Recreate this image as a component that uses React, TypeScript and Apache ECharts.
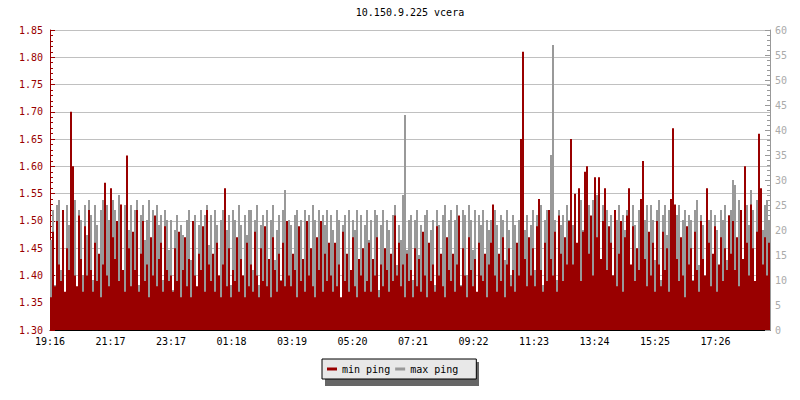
import React, { useEffect, useRef } from "react";
import * as echarts from "echarts";

const chartTitle = "10.150.9.225 vcera";
const tickLabels = ["19:16", "21:17", "23:17", "01:18", "03:19", "05:20", "07:21", "09:22", "11:23", "13:24", "15:25", "17:26"];
const minutesPerSample = 4;
const spanMinutes = 1440;
const labelStepMinutes = 121;

// min ping (ms), left axis
const minPing = [
  1.36, 1.48, 1.38, 1.50, 1.42, 1.39, 1.52, 1.37, 1.45, 1.41, 1.70, 1.60, 1.40, 1.38, 1.51, 1.43, 1.37, 1.49, 1.40, 1.52,
  1.41, 1.37, 1.46, 1.39, 1.44, 1.36, 1.42, 1.57, 1.40, 1.38, 1.56, 1.47, 1.43, 1.50, 1.39, 1.53, 1.41, 1.37, 1.62, 1.45,
  1.38, 1.48, 1.41, 1.52, 1.37, 1.44, 1.50, 1.39, 1.42, 1.36, 1.47, 1.40, 1.51, 1.38, 1.43, 1.46, 1.37, 1.49, 1.41, 1.39,
  1.40, 1.37, 1.45, 1.39, 1.48, 1.36, 1.41, 1.47, 1.38, 1.43, 1.36, 1.50, 1.40, 1.38, 1.44, 1.41, 1.49, 1.37, 1.52, 1.42,
  1.39, 1.44, 1.37, 1.46, 1.40, 1.36, 1.42, 1.56, 1.38, 1.45, 1.36, 1.41, 1.39, 1.47, 1.37, 1.43, 1.40, 1.36, 1.46, 1.38,
  1.42, 1.37, 1.48, 1.40, 1.36, 1.45, 1.39, 1.49, 1.38, 1.43, 1.36, 1.47, 1.41, 1.37, 1.44, 1.39, 1.46, 1.38, 1.50, 1.40,
  1.38, 1.44, 1.41, 1.36, 1.49, 1.39, 1.43, 1.37, 1.50, 1.40, 1.45, 1.38, 1.36, 1.47, 1.41, 1.50, 1.37, 1.44, 1.39, 1.46,
  1.40, 1.37, 1.46, 1.38, 1.42, 1.36, 1.48, 1.39, 1.44, 1.37, 1.41, 1.47, 1.38, 1.36, 1.43, 1.40, 1.45, 1.37, 1.39, 1.46,
  1.37, 1.43, 1.40, 1.47, 1.36, 1.42, 1.38, 1.45, 1.41, 1.37, 1.44, 1.39, 1.51, 1.40, 1.46, 1.38, 1.42, 1.36, 1.44, 1.39,
  1.41, 1.36, 1.45, 1.38, 1.43, 1.37, 1.48, 1.40, 1.36, 1.46, 1.39, 1.42, 1.37, 1.49, 1.40, 1.44, 1.38, 1.36, 1.47, 1.41,
  1.39, 1.44, 1.37, 1.42, 1.51, 1.38, 1.45, 1.40, 1.36, 1.47, 1.41, 1.38, 1.43, 1.37, 1.46, 1.40, 1.39, 1.44, 1.36, 1.42,
  1.46, 1.53, 1.40, 1.37, 1.44, 1.39, 1.47, 1.36, 1.42, 1.45, 1.38, 1.41, 1.37, 1.46, 1.40, 1.65, 1.81, 1.43, 1.38, 1.47,
  1.40, 1.45, 1.38, 1.49, 1.54, 1.41, 1.37, 1.46, 1.39, 1.52, 1.43, 1.40, 1.48, 1.37, 1.51, 1.44, 1.39, 1.47, 1.42, 1.50,
  1.65, 1.42, 1.55, 1.46, 1.56, 1.39, 1.48, 1.59, 1.60, 1.44, 1.51, 1.40, 1.58, 1.47, 1.58, 1.43, 1.50, 1.56, 1.41, 1.49,
  1.46, 1.40, 1.52, 1.38, 1.44, 1.50, 1.37, 1.47, 1.51, 1.56, 1.42, 1.49, 1.39, 1.45, 1.41, 1.54, 1.61, 1.43, 1.38, 1.48,
  1.40, 1.46, 1.37, 1.50, 1.42, 1.38, 1.48, 1.41, 1.45, 1.37, 1.54, 1.67, 1.53, 1.43, 1.39, 1.47, 1.40, 1.36, 1.49, 1.42,
  1.45, 1.39, 1.48, 1.41, 1.37, 1.50, 1.43, 1.40, 1.56, 1.46, 1.38, 1.44, 1.49, 1.37, 1.42, 1.47, 1.39, 1.45, 1.41, 1.51,
  1.44, 1.50, 1.41, 1.47, 1.38, 1.52, 1.43, 1.60, 1.46, 1.40, 1.53, 1.45, 1.39, 1.48, 1.66, 1.56, 1.42, 1.47, 1.40, 1.46,
];

// max ping, right axis
const maxPing = [
  18, 24, 9, 25, 26, 12, 24, 7, 25, 21, 27, 14, 26, 8, 24, 22, 11, 25, 19, 26,
  23, 10, 25, 21, 8, 24, 26, 13, 25, 22, 9, 26, 24, 15, 27, 23, 11, 25, 26, 20,
  25, 12, 24, 26, 9, 23, 25, 18, 22, 26, 14, 24, 7, 25, 21, 23, 10, 24, 22, 16,
  22, 8, 20, 23, 12, 21, 19, 9, 22, 24, 14, 20, 23, 7, 21, 24, 11, 23, 25, 17,
  23, 10, 24, 21, 6, 22, 24, 13, 20, 23, 9, 24, 22, 15, 25, 21, 8, 23, 19, 24,
  24, 12, 22, 25, 9, 21, 23, 17, 24, 8, 22, 25, 14, 20, 23, 10, 24, 28, 19, 22,
  21, 9, 23, 24, 13, 22, 7, 24, 20, 23, 11, 25, 22, 16, 24, 8, 23, 21, 24, 12,
  23, 20, 10, 24, 22, 6, 21, 23, 15, 24, 9, 22, 20, 24, 12, 23, 8, 21, 24, 18,
  22, 11, 24, 23, 8, 21, 24, 14, 22, 20, 9, 23, 25, 13, 21, 18, 27, 43, 16, 22,
  23, 10, 22, 24, 15, 21, 7, 23, 24, 12, 20, 22, 9, 24, 21, 14, 23, 25, 8, 22,
  24, 13, 22, 25, 20, 9, 24, 23, 11, 25, 22, 16, 24, 7, 23, 21, 24, 12, 22, 20,
  22, 10, 24, 21, 8, 23, 22, 14, 24, 20, 11, 23, 21, 9, 22, 24, 12, 20, 23, 15,
  21, 24, 12, 23, 20, 25, 9, 22, 24, 13, 35, 57, 22, 10, 24, 21, 23, 8, 25, 22,
  24, 21, 25, 12, 23, 26, 20, 24, 9, 25, 22, 26, 14, 27, 23, 10, 25, 22, 24, 16,
  23, 11, 24, 22, 25, 9, 23, 20, 24, 22, 13, 25, 21, 8, 24, 23, 15, 22, 25, 12,
  25, 22, 14, 24, 26, 10, 23, 25, 19, 24, 21, 26, 12, 23, 25, 9, 22, 24, 17, 23,
  22, 10, 24, 26, 13, 23, 21, 8, 25, 22, 24, 15, 23, 20, 11, 24, 22, 25, 14, 23,
  24, 30, 29, 18, 26, 23, 12, 27, 25, 21, 28, 24, 9, 26, 23, 27, 20, 25, 26, 22,
];

const RED = "#990000";
const GRAY = "#999999";
const FONT = "DejaVu Sans Mono";

function toSteps(values: number[]) {
  const pts = values.map((v, i) => [i * minutesPerSample, v]);
  pts.push([spanMinutes, values[values.length - 1]]);
  return pts;
}

export default function App() {
  const ref = useRef<HTMLDivElement>(null);
  useEffect(() => {
    if (!ref.current) return;
    const chart = echarts.init(ref.current, null, { renderer: "svg" });
    chart.setOption({
      animation: false,
      backgroundColor: "#ffffff",
      title: {
        text: chartTitle,
        left: 410,
        top: 7,
        textAlign: "center",
        padding: 0,
        textStyle: { fontFamily: FONT, fontSize: 10, fontWeight: "normal", color: "#000" },
      },
      graphic: [
        { type: "rect", left: 325, top: 362, shape: { width: 154, height: 24 }, style: { fill: "#666666" }, z: 0 },
      ],
      legend: {
        data: ["min ping", "max ping"],
        left: 322,
        top: 359,
        padding: [5, 18, 5, 5],
        itemGap: 5,
        itemWidth: 10,
        itemHeight: 3,
        icon: "rect",
        backgroundColor: "#e8e8e8",
        borderColor: "#000",
        borderWidth: 1,
        z: 5,
        textStyle: { fontFamily: FONT, fontSize: 10, color: "#000" },
      },
      grid: { left: 50, right: 30, top: 30, bottom: 70 },
      xAxis: {
        type: "value",
        min: 0,
        max: spanMinutes,
        interval: labelStepMinutes,
        axisLine: { lineStyle: { color: "#000", width: 1 } },
        axisTick: { inside: true, length: 5, lineStyle: { color: "#000" } },
        splitLine: { show: false },
        axisLabel: {
          color: "#000",
          fontFamily: FONT,
          fontSize: 10,
          margin: 6,
          showMaxLabel: false,
          formatter: (v: number) => tickLabels[Math.round(v / labelStepMinutes)] ?? "",
        },
      },
      yAxis: [
        {
          type: "value",
          min: 1.3,
          max: 1.85,
          interval: 0.05,
          position: "left",
          axisLine: { show: true, lineStyle: { color: RED } },
          axisTick: { show: true, inside: true, length: 5, lineStyle: { color: RED } },
          minorTick: { show: true, splitNumber: 5, length: 3, lineStyle: { color: RED } },
          splitLine: { show: true, lineStyle: { color: "#c0c0c0", width: 1 } },
          axisLabel: {
            color: RED,
            fontFamily: FONT,
            fontSize: 10,
            margin: 7,
            formatter: (v: number) => v.toFixed(2),
          },
        },
        {
          type: "value",
          min: 0,
          max: 60,
          interval: 5,
          position: "right",
          axisLine: { show: true, lineStyle: { color: GRAY } },
          axisTick: { show: true, inside: true, length: 5, lineStyle: { color: GRAY } },
          minorTick: { show: true, splitNumber: 5, length: 3, lineStyle: { color: GRAY } },
          splitLine: { show: false },
          axisLabel: { color: "#aaaaaa", fontFamily: FONT, fontSize: 10, margin: 5 },
        },
      ],
      series: [
        {
          name: "max ping",
          type: "line",
          yAxisIndex: 1,
          step: "end",
          symbol: "none",
          showSymbol: false,
          itemStyle: { color: GRAY },
          lineStyle: { width: 0, color: GRAY },
          areaStyle: { color: GRAY, opacity: 1, origin: "start" },
          data: toSteps(maxPing),
          z: 2,
        },
        {
          name: "min ping",
          type: "line",
          yAxisIndex: 0,
          step: "end",
          symbol: "none",
          showSymbol: false,
          itemStyle: { color: RED },
          lineStyle: { width: 0, color: RED },
          areaStyle: { color: RED, opacity: 1, origin: "start" },
          data: toSteps(minPing),
          z: 3,
        },
      ],
    });
    return () => chart.dispose();
  }, []);
  return (
    <div
      ref={ref}
      style={{ position: "absolute", left: 0, top: 0, width: "800px", height: "400px" }}
    />
  );
}
